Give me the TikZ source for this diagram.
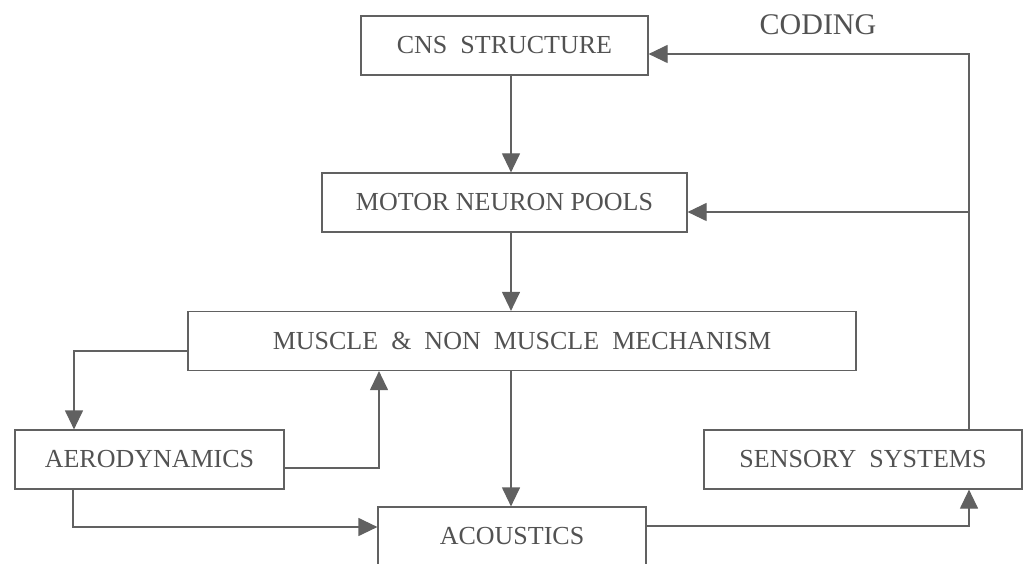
\documentclass[tikz,border=0pt]{standalone}
\usepackage{fontspec}
\setmainfont{Liberation Serif}
\usetikzlibrary{arrows.meta}

\tikzstyle{block} = [draw=black!62, line width=1.2pt, inner sep=0pt, text=black!68, font=\fontsize{26}{30}\selectfont, minimum height=59pt]
\tikzstyle{flow}  = [draw=black!62, line width=1.2pt, -{Triangle[length=19pt,width=18pt]}]

\begin{document}
\begin{tikzpicture}[x=1pt, y=-1pt]
  \useasboundingbox (0,0) rectangle (1023,564);
  % boxes
  \node[block, minimum width=287pt] (cns)    at (504.5,45.5)  {CNS\ \ STRUCTURE};
  \node[block, minimum width=365pt] (motor)  at (504.5,202.5) {MOTOR NEURON POOLS};
  \node[block, minimum width=668pt] (muscle) at (522,341)     {MUSCLE\ \ \&\ \ NON\ \ MUSCLE\ \ MECHANISM};
  \node[block, minimum width=269pt] (aero)   at (149.5,459.5) {AERODYNAMICS};
  \node[block, minimum width=268pt] (acou)   at (512,536.5)   {ACOUSTICS};
  \node[block, minimum width=318pt] (sens)   at (863,459.5)   {SENSORY\ \ SYSTEMS};
  \node[text=black!68, font=\fontsize{30}{34}\selectfont] (coding) at (818,25) {CODING};

  % corners of the loops
  \coordinate (loop)  at (969,54);
  \coordinate (tap)   at (969,212);
  \coordinate (aleft) at (74,351);

  % main chain
  \draw[flow] ([xshift=6.5pt]cns.south)    -- ([xshift=6.5pt]cns.south |- motor.north);
  \draw[flow] ([xshift=6.5pt]motor.south)  -- ([xshift=6.5pt]motor.south |- muscle.north);
  \draw[flow] ([xshift=-11pt]muscle.south) -- ([xshift=-11pt]muscle.south |- acou.north);

  % aerodynamics loop
  \draw[flow] ([yshift=-10pt]muscle.west) -- (aleft) -- (aleft |- aero.north);
  \draw[flow] ([yshift=-8.5pt]aero.east) -| ([xshift=-143pt]muscle.south);
  \draw[flow] ([xshift=-76.5pt]aero.south) |- ([yshift=9.5pt]acou.west);

  % feedback
  \draw[flow] ([yshift=10.5pt]acou.east) -| (sens.south -| loop);
  \draw[flow] (sens.north -| loop) -- (loop) -- (loop -| cns.east);
  \draw[flow] (tap) -- (tap -| motor.east);
\end{tikzpicture}
\end{document}
